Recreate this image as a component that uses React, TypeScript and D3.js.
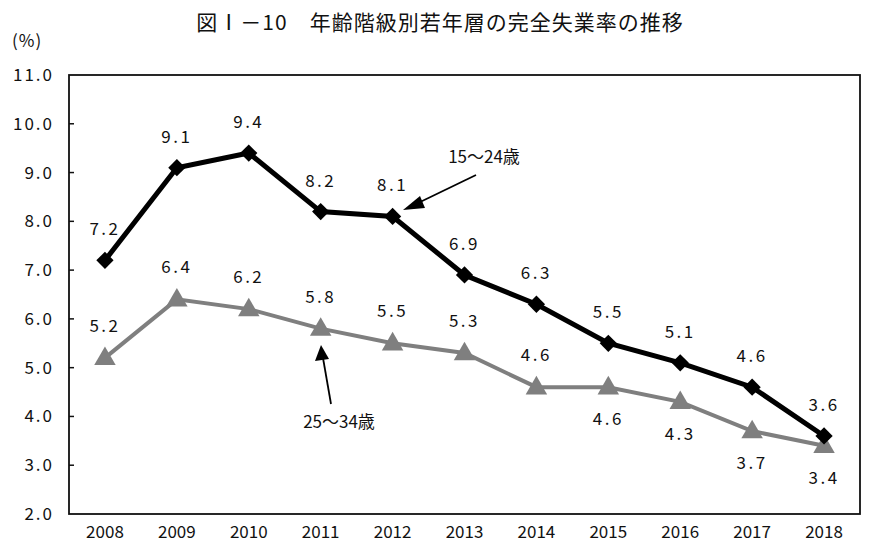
import React from "react";
import * as d3 from "d3";

const years = ["2008","2009","2010","2011","2012","2013","2014","2015","2016","2017","2018"];
const youth15to24 = [7.2, 9.1, 9.4, 8.2, 8.1, 6.9, 6.3, 5.5, 5.1, 4.6, 3.6];
const youth25to34 = [5.2, 6.4, 6.2, 5.8, 5.5, 5.3, 4.6, 4.6, 4.3, 3.7, 3.4];
const yTicks = [2, 3, 4, 5, 6, 7, 8, 9, 10, 11];
// label placement for the grey series: above (true) or below (false)
const greyAbove = [true, true, true, true, true, true, true, false, false, false, false];

const W = 884, H = 549;
const M = { left: 69, right: 24, top: 75, bottom: 35 };
const FONT = "'Noto Sans CJK JP', 'Noto Sans', sans-serif";

export default function App() {
  const x = d3.scaleBand().domain(years).range([M.left, W - M.right]);
  const y = d3.scaleLinear().domain([2, 11]).range([H - M.bottom, M.top]);
  const cx = (i: number) => (x(years[i]) as number) + x.bandwidth() / 2;
  const line = d3.line<number>().x((_, i) => cx(i)).y((d) => y(d));
  const fmt = (v: number) => v.toFixed(1);

  const diamond = d3.symbol().type(d3.symbolDiamond2).size(190)();
  const tri = d3.symbol().type(d3.symbolTriangle).size(200)();

  return (
    <svg width={W} height={H} style={{ position: "absolute", left: 0, top: 0, background: "#fff" }} fontFamily={FONT}>
      <rect width={W} height={H} fill="#fff" />
      <text x={440} y={30} textAnchor="middle" fontSize={21} fill="#111" letterSpacing={1}>図Ⅰ－10　年齢階級別若年層の完全失業率の推移</text>
      <text x={12} y={47} fontSize={17} fill="#111" letterSpacing={1}>(%)</text>

      {/* y axis labels and ticks */}
      {yTicks.map((t) => (
        <g key={t}>
          <text x={54} y={y(t) + 6} textAnchor="end" fontSize={17} fill="#111" letterSpacing={2}>{fmt(t)}</text>
          {t !== 2 && t !== 11 && <line x1={M.left} x2={M.left + 5} y1={y(t)} y2={y(t)} stroke="#111" strokeWidth={1.5} />}
        </g>
      ))}
      {/* plot frame */}
      <rect x={M.left} y={M.top} width={W - M.right - M.left} height={H - M.bottom - M.top} fill="none" stroke="#111" strokeWidth={1.8} />

      {/* x labels */}
      {years.map((yr, i) => (
        <text key={yr} x={cx(i)} y={H - 11} textAnchor="middle" fontSize={17} fill="#111">{yr}</text>
      ))}

      {/* grey series */}
      <path d={line(youth25to34) || ""} fill="none" stroke="#7f7f7f" strokeWidth={4} />
      {youth25to34.map((v, i) => (
        <path key={i} d={tri || ""} transform={`translate(${cx(i)},${y(v) + 1})`} fill="#7f7f7f" />
      ))}

      {/* black series */}
      <path d={line(youth15to24) || ""} fill="none" stroke="#000" strokeWidth={5} />
      {youth15to24.map((v, i) => (
        <path key={i} d={diamond || ""} transform={`translate(${cx(i)},${y(v)})`} fill="#000" />
      ))}

      {/* value labels */}
      {youth15to24.map((v, i) => (
        <text key={"b" + i} x={cx(i)} y={y(v) - 25} textAnchor="middle" fontSize={17} fill="#111" letterSpacing={2.5}>{fmt(v)}</text>
      ))}
      {youth25to34.map((v, i) => (
        <text key={"g" + i} x={cx(i)} y={greyAbove[i] ? y(v) - 26 : y(v) + 38} textAnchor="middle" fontSize={17} fill="#111" letterSpacing={2.5}>{fmt(v)}</text>
      ))}

      {/* annotations */}
      <text x={484} y={163} textAnchor="middle" fontSize={17} fill="#111">15～24歳</text>
      <line x1={476} y1={175} x2={416} y2={204} stroke="#000" strokeWidth={1.8} />
      <path d="M403,210 L420,196 L425,208 Z" fill="#000" />
      <text x={339} y={428} textAnchor="middle" fontSize={17} fill="#111">25～34歳</text>
      <line x1={331} y1={404} x2={323} y2={358} stroke="#000" strokeWidth={1.8} />
      <path d="M321,345 L315,361 L329,359 Z" fill="#000" />
    </svg>
  );
}
